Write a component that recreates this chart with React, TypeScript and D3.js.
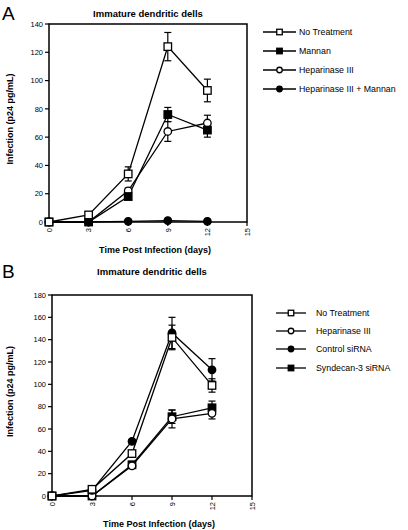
import React from "react";
import * as d3 from "d3";

const days = [0, 3, 6, 9, 12];
const xTicks = [0, 3, 6, 9, 12, 15];

const aYTicks = [0, 20, 40, 60, 80, 100, 120, 140];
const aNoTreatment = [0, 5, 34, 124, 93];
const aNoTreatmentErr = [0, 0.5, 5, 10, 8];
const aMannan = [0, 0, 18, 76, 65];
const aMannanErr = [0, 0, 2, 5, 5];
const aHeparinase = [0, 0, 22, 64, 70];
const aHeparinaseErr = [0, 0, 2, 7, 5.5];
const aHepMannan = [0, 0, 0.5, 1, 0.5];
const aHepMannanErr = [0, 0, 0, 0, 0];

const bYTicks = [0, 20, 40, 60, 80, 100, 120, 140, 160, 180];
const bNoTreatment = [0, 6, 38, 142, 99];
const bNoTreatmentErr = [0, 0.5, 2, 11, 6];
const bHeparinase = [0, 0, 27, 69, 74];
const bHeparinaseErr = [0, 0, 1.5, 8, 5];
const bControl = [0, 5, 49, 146, 113];
const bControlErr = [0, 0, 1.5, 14, 10];
const bSyndecan = [0, 0, 28, 71, 79];
const bSyndecanErr = [0, 0, 1.5, 6, 6];

type Marker = "openSquare" | "filledSquare" | "openCircle" | "filledCircle";
interface Series {
  name: string;
  values: number[];
  err: number[];
  marker: Marker;
}

const seriesA: Series[] = [
  { name: "No Treatment", values: aNoTreatment, err: aNoTreatmentErr, marker: "openSquare" },
  { name: "Mannan", values: aMannan, err: aMannanErr, marker: "filledSquare" },
  { name: "Heparinase III", values: aHeparinase, err: aHeparinaseErr, marker: "openCircle" },
  { name: "Heparinase III + Mannan", values: aHepMannan, err: aHepMannanErr, marker: "filledCircle" },
];
const seriesB: Series[] = [
  { name: "No Treatment", values: bNoTreatment, err: bNoTreatmentErr, marker: "openSquare" },
  { name: "Heparinase III", values: bHeparinase, err: bHeparinaseErr, marker: "openCircle" },
  { name: "Control siRNA", values: bControl, err: bControlErr, marker: "filledCircle" },
  { name: "Syndecan-3 siRNA", values: bSyndecan, err: bSyndecanErr, marker: "filledSquare" },
];

const FONT = "'Liberation Sans', Arial, Helvetica, sans-serif";

function MarkerShape({ type, x, y, s = 7.5 }: { type: Marker; x: number; y: number; s?: number }) {
  const fill = type.startsWith("open") ? "#fff" : "#000";
  if (type.endsWith("Square")) {
    return <rect x={x - s / 2} y={y - s / 2} width={s} height={s} fill={fill} stroke="#000" strokeWidth={1.3} />;
  }
  return <circle cx={x} cy={y} r={s / 2} fill={fill} stroke="#000" strokeWidth={1.3} />;
}

interface PanelProps {
  letter: string;
  top: number;
  x0: number;
  x1: number;
  y0: number;
  y1: number;
  yMax: number;
  yTicks: number[];
  series: Series[];
  legendX: number;
  legendLineW: number;
  legendTextX: number;
  legendY: number[];
  drawOrder: number[];
}

function Panel(p: PanelProps) {
  const x = d3.scaleLinear().domain([0, 15]).range([p.x0, p.x1]);
  const y = d3.scaleLinear().domain([0, p.yMax]).range([p.y0, p.y1]);
  const line = d3
    .line<number>()
    .x((_, i) => x(days[i]))
    .y((v) => y(v));
  const cx = (p.x0 + p.x1) / 2;
  const cy = (p.y0 + p.y1) / 2;
  const cap = 3.5;
  return (
    <g fontFamily={FONT}>
      <text x={2} y={p.top + 20} fontSize={19}>{p.letter}</text>
      <text x={cx} y={p.top + 17} fontSize={9.5} fontWeight="bold" textAnchor="middle">
        Immature dendritic dells
      </text>
      {/* frame */}
      <rect x={p.x0} y={p.y1} width={p.x1 - p.x0} height={p.y0 - p.y1} fill="none" stroke="#000" strokeWidth={1.5} />
      {/* y ticks */}
      {p.yTicks.map((t) => (
        <g key={"yt" + t}>
          <line x1={p.x0 - 4} x2={p.x0} y1={y(t)} y2={y(t)} stroke="#000" strokeWidth={1.2} />
          <text x={p.x0 - 6} y={y(t) + 2.7} fontSize={7.5} textAnchor="end">{t}</text>
        </g>
      ))}
      {/* x ticks */}
      {xTicks.map((t) => (
        <g key={"xt" + t}>
          <line x1={x(t)} x2={x(t)} y1={p.y0} y2={p.y0 + 4} stroke="#000" strokeWidth={1.2} />
          <text
            transform={`translate(${x(t) + 2.7},${p.y0 + 6}) rotate(-90)`}
            fontSize={7.5}
            textAnchor="end"
          >
            {t}
          </text>
        </g>
      ))}
      {/* lines */}
      {p.drawOrder.map((k) => (
        <path key={"l" + k} d={line(p.series[k].values) || ""} fill="none" stroke="#000" strokeWidth={1.3} />
      ))}
      {/* error bars */}
      {p.drawOrder.map((k) =>
        p.series[k].values.map((v, i) =>
          p.series[k].err[i] > 0 ? (
            <g key={"e" + k + "-" + i} stroke="#000" strokeWidth={1.2}>
              <line x1={x(days[i])} x2={x(days[i])} y1={y(v - p.series[k].err[i])} y2={y(v + p.series[k].err[i])} />
              <line x1={x(days[i]) - cap} x2={x(days[i]) + cap} y1={y(v + p.series[k].err[i])} y2={y(v + p.series[k].err[i])} />
              <line x1={x(days[i]) - cap} x2={x(days[i]) + cap} y1={y(v - p.series[k].err[i])} y2={y(v - p.series[k].err[i])} />
            </g>
          ) : null
        )
      )}
      {/* markers */}
      {p.drawOrder.map((k) =>
        p.series[k].values.map((v, i) => (
          <MarkerShape key={"m" + k + "-" + i} type={p.series[k].marker} x={x(days[i])} y={y(v)} />
        ))
      )}
      <text x={cx + 7} y={p.y0 + 31} fontSize={9} fontWeight="bold" textAnchor="middle">
        Time Post Infection (days)
      </text>
      <text transform={`translate(13,${cy - 4}) rotate(-90)`} fontSize={9} fontWeight="bold" textAnchor="middle">
        Infection (p24 pg/mL)
      </text>
      {/* legend */}
      {p.series.map((s, i) => (
        <g key={"lg" + i}>
          <line x1={p.legendX} x2={p.legendX + p.legendLineW} y1={p.legendY[i]} y2={p.legendY[i]} stroke="#000" strokeWidth={1.3} />
          <MarkerShape type={s.marker} x={p.legendX + p.legendLineW / 2} y={p.legendY[i]} s={5.5} />
          <text x={p.legendTextX} y={p.legendY[i] + 3} fontSize={8.8}>{s.name}</text>
        </g>
      ))}
    </g>
  );
}

export default function App() {
  return (
    <svg
      width={408}
      height={530}
      style={{ position: "absolute", left: 0, top: 0, background: "#fff" }}
    >
      <rect width={408} height={530} fill="#fff" />
      <Panel
        letter="A"
        top={0}
        x0={49}
        x1={247}
        y0={222}
        y1={24}
        yMax={140}
        yTicks={aYTicks}
        series={seriesA}
        legendX={263}
        legendLineW={33}
        legendTextX={299}
        legendY={[32, 51, 70, 89]}
        drawOrder={[3, 2, 1, 0]}
      />
      <Panel
        letter="B"
        top={258}
        x0={52}
        x1={252}
        y0={496}
        y1={295}
        yMax={180}
        yTicks={bYTicks}
        series={seriesB}
        legendX={276}
        legendLineW={30}
        legendTextX={316}
        legendY={[313, 331, 349, 368]}
        drawOrder={[3, 1, 2, 0]}
      />
    </svg>
  );
}
